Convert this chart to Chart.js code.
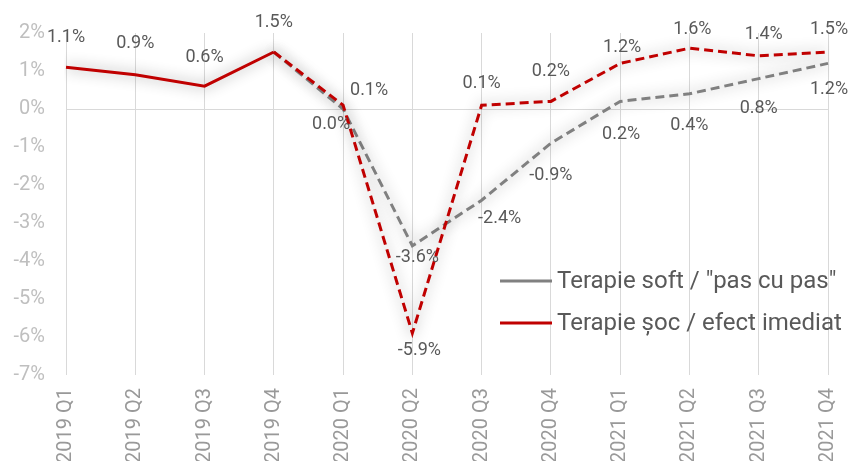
<!DOCTYPE html>
<html>
<head>
<meta charset="utf-8">
<script src="https://cdn.jsdelivr.net/npm/chart.js@4.4.1/dist/chart.umd.min.js"></script>
<style>
html,body{margin:0;padding:0;background:#fff;overflow:hidden;}
#wrap{width:850px;height:461px;}
</style>
</head>
<body>
<div id="wrap"><canvas id="c" width="850" height="461"></canvas></div>
<script>
// ---- data ----
const categories = ["2019 Q1","2019 Q2","2019 Q3","2019 Q4","2020 Q1","2020 Q2","2020 Q3","2020 Q4","2021 Q1","2021 Q2","2021 Q3","2021 Q4"];
const softLabel = 'Terapie soft / "pas cu pas"';
const shockLabel = 'Terapie șoc / efect imediat';
const softValues = [null, null, null, 1.5, 0.0, -3.6, -2.4, -0.9, 0.2, 0.4, 0.8, 1.2];
const shockValues = [1.1, 0.9, 0.6, 1.5, 0.1, -5.9, 0.1, 0.2, 1.2, 1.6, 1.4, 1.5];
const yTicks = [-7, -6, -5, -4, -3, -2, -1, 0, 1, 2];

// ---- label placement (pixel offsets from point; null = no label) ----
const softLabelOffsets = [null, null, null, null, [-12, 15], [5, 12], [18, 18], [0, 32], [1, 33], [0, 32], [0, 30], [1, 26]];
const shockLabelOffsets = [[0, -30], [0, -31], [0, -29], [0, -30], [26, -15], [7, 17], [0, -22], [0, -30], [2, -16], [3, -19], [5, -21], [1, -23]];

const RED = '#c00000';
const GRAY = '#808080';
const FONT = 'Roboto, "Liberation Sans", sans-serif';

const shadowPlugin = {
  id: 'shadow',
  beforeDatasetDraw(chart) {
    const ctx = chart.ctx;
    ctx.save();
    ctx.shadowColor = 'rgba(0,0,0,0.45)';
    ctx.shadowBlur = 14;
    ctx.shadowOffsetX = 0;
    ctx.shadowOffsetY = 0;
  },
  afterDatasetDraw(chart) {
    chart.ctx.restore();
  }
};

const labelsPlugin = {
  id: 'valueLabels',
  afterDatasetsDraw(chart) {
    const ctx = chart.ctx;
    const x = chart.scales.x, y = chart.scales.y;
    ctx.save();
    ctx.font = '18px ' + FONT;
    ctx.fillStyle = '#595959';
    ctx.textAlign = 'center';
    ctx.textBaseline = 'middle';
    const sets = [[softValues, softLabelOffsets], [shockValues, shockLabelOffsets]];
    sets.forEach(([vals, offs]) => {
      vals.forEach((v, i) => {
        if (v === null || !offs[i]) return;
        const px = x.getPixelForValue(i) + offs[i][0];
        const py = y.getPixelForValue(v) + offs[i][1];
        ctx.fillText(v.toFixed(1) + '%', px, py);
      });
    });
    ctx.restore();
  }
};

const legendPlugin = {
  id: 'inLegend',
  afterDraw(chart) {
    const ctx = chart.ctx;
    const items = [[softLabel, GRAY, 281], [shockLabel, RED, 323]];
    ctx.save();
    ctx.font = '24px ' + FONT;
    ctx.textAlign = 'left';
    ctx.textBaseline = 'middle';
    items.forEach(([t, c, yy]) => {
      ctx.strokeStyle = c;
      ctx.lineWidth = 3;
      ctx.beginPath();
      ctx.moveTo(500, yy);
      ctx.lineTo(552, yy);
      ctx.stroke();
      ctx.fillStyle = '#595959';
      ctx.fillText(t, 557, yy + 1);
    });
    ctx.restore();
  }
};

new Chart(document.getElementById('c'), {
  type: 'line',
  data: {
    labels: categories,
    datasets: [
      {
        label: softLabel,
        data: softValues,
        borderColor: GRAY,
        borderWidth: 3,
        borderDash: [9, 5],
        pointRadius: 0,
        tension: 0,
        fill: false,
        order: 1
      },
      {
        label: shockLabel,
        data: shockValues,
        borderColor: RED,
        borderWidth: 3,
        pointRadius: 0,
        tension: 0,
        fill: false,
        order: 0,
        segment: {
          borderDash: c => (c.p0DataIndex >= 3 ? [9, 5] : undefined)
        }
      }
    ]
  },
  options: {
    responsive: false,
    devicePixelRatio: 1,
    animation: false,
    layout: { padding: { top: 33, right: 22, left: 0, bottom: 0 } },
    plugins: {
      legend: { display: false },
      tooltip: { enabled: false }
    },
    scales: {
      x: {
        offset: false,
        border: { display: false },
        grid: { color: '#d9d9d9', lineWidth: 1, drawTicks: false },
        ticks: {
          autoSkip: false,
          minRotation: 90,
          maxRotation: 90,
          padding: 13,
          color: '#999999',
          font: { family: FONT, size: 20 }
        },
        afterFit(s) { s.height = 86; s.paddingLeft = 0; s.paddingRight = 0; }
      },
      y: {
        min: -7,
        max: 2,
        afterBuildTicks(s) { s.ticks = yTicks.map(v => ({ value: v })); },
        border: { display: false },
        grid: {
          drawTicks: false,
          color: c => (c.tick && c.tick.value === 0 ? '#d9d9d9' : 'rgba(0,0,0,0)'),
          lineWidth: 1
        },
        ticks: {
          padding: 21,
          color: '#bfbfbf',
          font: { family: FONT, size: 20 },
          callback: v => v + '%'
        },
        afterFit(s) { s.width = 66; s.paddingTop = 0; s.paddingBottom = 0; }
      }
    }
  },
  plugins: [shadowPlugin, labelsPlugin, legendPlugin]
});
</script>
</body>
</html>
